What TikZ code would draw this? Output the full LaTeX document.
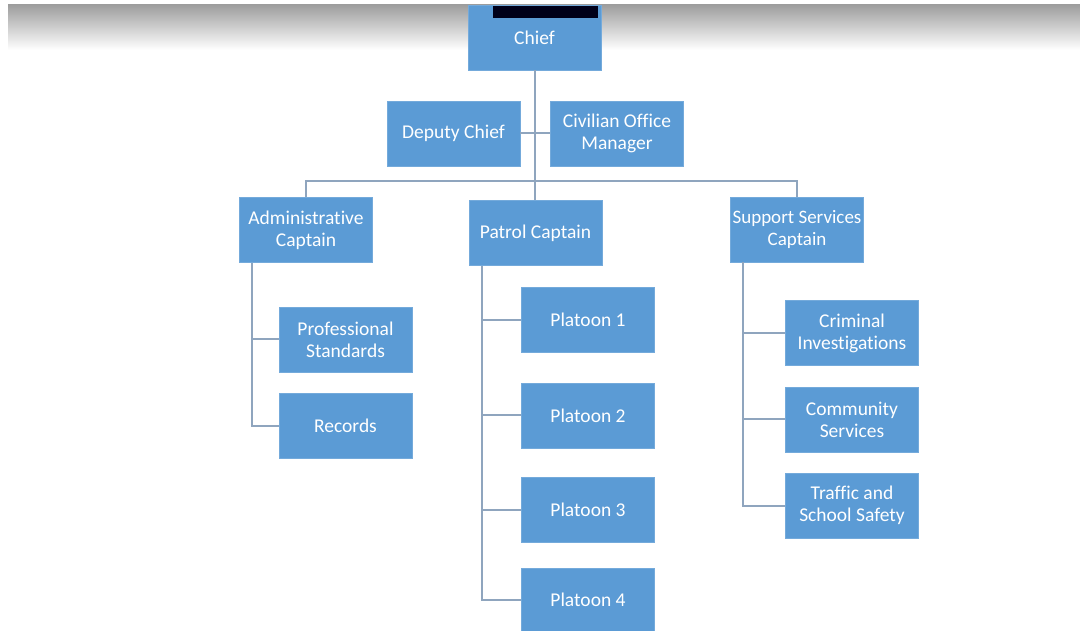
\documentclass[tikz,border=0pt]{standalone}
\usepackage{fontspec}
\setmainfont{Carlito}[Ligatures=NoCommon]
\usetikzlibrary{positioning}
\definecolor{boxblue}{HTML}{5B9BD5}
\definecolor{linkgray}{HTML}{8FA5BE}
\begin{document}
\begin{tikzpicture}[x=1pt,y=-1pt,node distance=21pt,
            unit/.style={rectangle,fill=boxblue,draw=boxblue!85!white,thin,text=white,
              minimum width=133pt,minimum height=65pt,inner xsep=0pt,align=center,
              font=\fontsize{19.5}{22}\selectfont},
            link/.style={draw=linkgray,line width=2pt}]
            \useasboundingbox (0,0) rectangle (1080,631);
            % faded band across the top
            \shade[top color=black!38,bottom color=white] (8,5) rectangle (1080,50);
            \node[unit] (chief) at (534.5,37.5) {Chief};
            \fill[black!90!blue] (493,6) rectangle (598,18);
            \node[unit] (deputy) at (453.5,133.5) {Deputy Chief};
            \node[unit] (civilian) at (617,133.5) {Civilian Office\\Manager};
            \node[unit] (admin) at (306,230) {Administrative\\Captain};
            \node[unit] (patrol) at (535.5,233) {Patrol Captain};
            \node[unit,font=\fontsize{19}{22}\selectfont] (support) at (797,229.5) {Support Services\\Captain};
            \node[unit] (profstd) at (345.5,339.5) {Professional\\Standards};
            \node[unit] (records) [below=of profstd] {Records};
            \node[unit] (p1) at (588,320) {Platoon 1};
            \node[unit] (p2) [below=30pt of p1] {Platoon 2};
            \node[unit] (p3) [below=29pt of p2] {Platoon 3};
            \node[unit] (p4) [below=25pt of p3] {Platoon 4};
            \node[unit] (crim) at (852,333) {Criminal\\Investigations};
            \node[unit] (comm) [below=of crim] {Community\\Services};
            \node[unit] (traffic) [below=of comm] {Traffic and\\School Safety};
            % connectors
            \coordinate (bar) at (0,181);
            \coordinate (adm trunk) at ([xshift=13pt]admin.south west);
            \coordinate (pat trunk) at ([xshift=13pt]patrol.south west);
            \coordinate (sup trunk) at ([xshift=13pt]support.south west);
            \path[link]
            (chief.south) -- (chief.south |- bar)
            (deputy.east) -- (civilian.west)
            (admin.north) -- (admin.north |- bar) -- (support.north |- bar) -- (support.north)
            (chief.south |- bar) -- (chief.south |- patrol.north)
            (adm trunk) |- (profstd.west)
            (adm trunk) |- (records.west)
            (pat trunk) |- (p1.west)
            (pat trunk) |- (p2.west)
            (pat trunk) |- (p3.west)
            (pat trunk) |- (p4.west)
            (sup trunk) |- (crim.west)
            (sup trunk) |- (comm.west)
            (sup trunk) |- (traffic.west)
            ;
        \end{tikzpicture}
\end{document}
